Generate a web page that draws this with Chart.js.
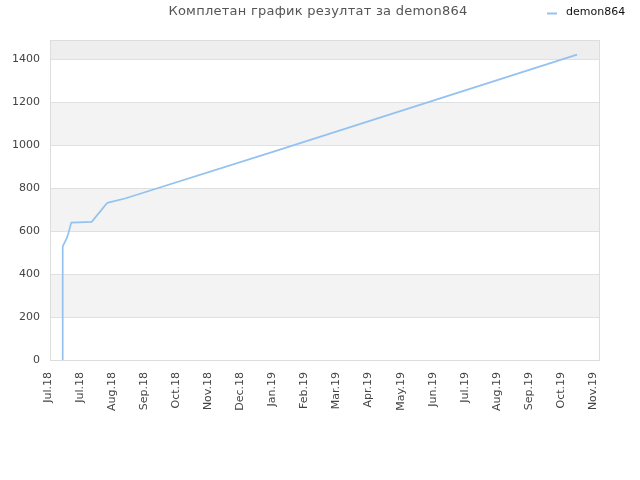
<!DOCTYPE html>
<html>
<head>
<meta charset="utf-8">
<script src="https://cdn.jsdelivr.net/npm/chart.js@4.4.0/dist/chart.umd.min.js"></script>
<style>
html,body{margin:0;padding:0;background:#fff;}
#wrap{width:640px;height:480px;position:relative;}
</style>
</head>
<body>
<div id="wrap"><canvas id="c" width="640" height="480"></canvas></div>
<script>
const chartTitle = 'Комплетан график резултат за demon864';
const seriesName = 'demon864';
const tickLabels = ['Jul.18','Jul.18','Aug.18','Sep.18','Oct.18','Nov.18','Dec.18','Jan.19','Feb.19','Mar.19','Apr.19','May.19','Jun.19','Jul.19','Aug.19','Sep.19','Oct.19','Nov.19'];
// x positions in tick units (0 = first tick)
const xValues = [0.396, 0.396, 0.396, 0.415, 0.521, 0.571, 0.664, 1.301, 1.769, 1.818, 2.339, 7.121, 16.438];
const yValues = [0, 377, 527, 535, 566, 589, 640, 643, 729, 733, 752, 977, 1422];

const points = xValues.map((x, i) => ({x: x, y: yValues[i]}));

const bandsPlugin = {
  id: 'bands',
  beforeDraw(chart) {
    const {ctx, chartArea: a, scales: {y}} = chart;
    ctx.save();
    ctx.fillStyle = '#ffffff';
    ctx.fillRect(0, 0, chart.width, chart.height);
    for (let v = 0; v < y.max; v += 200) {
      const idx = v / 200;
      if (idx % 2 === 1) {
        const top = Math.max(y.getPixelForValue(Math.min(v + 200, y.max)), a.top);
        const bot = y.getPixelForValue(v);
        ctx.fillStyle = (v + 200 > y.max) ? '#eeeeee' : '#f3f3f3';
        ctx.fillRect(a.left, top, a.right - a.left, bot - top);
      }
    }
    ctx.restore();
  },
  afterDraw(chart) {
    const {ctx, chartArea: a} = chart;
    ctx.save();
    ctx.strokeStyle = '#dddddd';
    ctx.lineWidth = 1;
    ctx.strokeRect(a.left + 0.5, a.top + 0.5, a.right - a.left - 1, a.bottom - a.top);
    // title
    ctx.fillStyle = '#555555';
    ctx.font = '13px "DejaVu Sans"';
    if ('letterSpacing' in ctx) ctx.letterSpacing = '0.25px';
    ctx.textAlign = 'center';
    ctx.textBaseline = 'middle';
    ctx.fillText(chartTitle, 318, 12);
    if ('letterSpacing' in ctx) ctx.letterSpacing = '0px';
    // legend
    const ds = chart.data.datasets[0];
    ctx.strokeStyle = ds.borderColor;
    ctx.lineWidth = 2;
    ctx.beginPath();
    ctx.moveTo(547, 13.5);
    ctx.lineTo(557, 13.5);
    ctx.stroke();
    ctx.fillStyle = '#111111';
    ctx.font = '11px "DejaVu Sans"';
    ctx.textAlign = 'left';
    ctx.fillText(ds.label, 566, 12.5);
    ctx.restore();
  }
};

new Chart(document.getElementById('c'), {
  type: 'line',
  data: {
    datasets: [{
      label: seriesName,
      data: points,
      borderColor: '#94c2f0',
      borderWidth: 1.7,
      pointRadius: 0,
      tension: 0,
      fill: false
    }]
  },
  options: {
    responsive: false,
    animation: false,
    devicePixelRatio: 1,
    layout: {padding: {left: 0, right: 40, top: 40, bottom: 0}},
    plugins: {legend: {display: false}, title: {display: false}, tooltip: {enabled: false}},
    scales: {
      x: {
        type: 'linear',
        min: 0,
        max: 17.155,
        afterFit(s) { s.height = 120; },
        afterBuildTicks(s) {
          s.ticks = tickLabels.map((_, i) => ({value: i}));
        },
        grid: {display: false, drawTicks: false},
        border: {display: false},
        ticks: {
          autoSkip: false,
          minRotation: 90,
          maxRotation: 90,
          padding: 12,
          labelOffset: -2,
          color: '#444444',
          font: {family: 'DejaVu Sans', size: 11},
          callback: (v) => tickLabels[Math.round(v)]
        }
      },
      y: {
        min: 0,
        max: 1490,
        afterFit(s) { s.width = 50; },
        afterBuildTicks(s) {
          s.ticks = s.ticks.filter(t => t.value % 200 === 0);
        },
        grid: {color: '#e0e0e0', drawTicks: false},
        border: {display: false},
        ticks: {
          stepSize: 200,
          padding: 10,
          color: '#444444',
          font: {family: 'DejaVu Sans', size: 11},
          callback: (v) => String(v)
        }
      }
    }
  },
  plugins: [bandsPlugin]
});
</script>
</body>
</html>
